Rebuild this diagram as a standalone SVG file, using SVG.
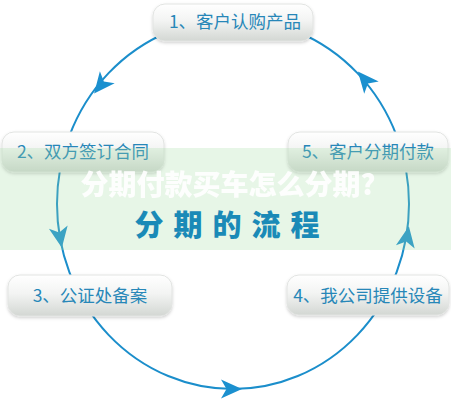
<svg xmlns="http://www.w3.org/2000/svg" width="451" height="400" viewBox="0 0 451 400">
<defs>
<linearGradient id="ng" x1="0" y1="0" x2="0" y2="1">
<stop offset="0" stop-color="#ffffff"/>
<stop offset="0.45" stop-color="#f3f4f3"/>
<stop offset="1" stop-color="#d3d7d3"/>
</linearGradient>
<filter id="sh" x="-10%" y="-20%" width="120%" height="150%">
<feDropShadow dx="0" dy="1.5" stdDeviation="1.5" flood-color="#000" flood-opacity="0.18"/>
</filter>
<path id="ah" d="M11,0 L-10,-9.5 L-4.5,0 L-10,9.5 Z"/>
</defs>
<style>
.node rect{fill:url(#ng);stroke:#e2e4e2;stroke-width:1;filter:url(#sh)}
.node text{font-family:"Noto Sans CJK SC","Noto Sans",sans-serif;font-size:17.5px;fill:#2787b8;text-anchor:middle}
.arrow{fill:#1b90cf}
.wm{font-family:"Noto Sans CJK SC",sans-serif;font-weight:900;fill:#ffffff}
.title{font-family:"Noto Sans CJK SC",sans-serif;font-weight:900;fill:#1a8ab7}
</style>
<rect width="451" height="400" fill="#ffffff"/>
<g id="connectors">
<ellipse cx="233" cy="204" rx="176" ry="185" fill="none" stroke="#1b8ecb" stroke-width="2"/>
<use href="#ah" class="arrow" transform="translate(101,85) rotate(128.9)"/>
<use href="#ah" class="arrow" transform="translate(60,237) rotate(80.2)"/>
<use href="#ah" class="arrow" transform="translate(231,389) rotate(0)"/>
<use href="#ah" class="arrow" transform="translate(407,237) rotate(-80.2)"/>
<use href="#ah" class="arrow" transform="translate(365,80) rotate(-130.3)"/>
</g>
<g id="node1" class="node"><rect x="153" y="4" width="160" height="37" rx="12"/><text x="235" y="28">1、客户认购产品</text></g>
<g id="node2" class="node"><rect x="2" y="132" width="162" height="40" rx="12"/><text x="83" y="158">2、双方签订合同</text></g>
<g id="node5" class="node"><rect x="288" y="132" width="160" height="40" rx="12"/><text x="368" y="158">5、客户分期付款</text></g>
<g id="node3" class="node"><rect x="8" y="275" width="164" height="41" rx="12"/><text x="90" y="302">3、公证处备案</text></g>
<g id="node4" class="node"><rect x="287" y="275" width="162" height="40" rx="12"/><text x="368" y="302">4、我公司提供设备</text></g>
<rect id="band" x="0" y="148" width="451" height="102" fill="#9fdc9f" opacity="0.25"/>
<text class="title" x="232" y="236" font-size="29" text-anchor="middle" letter-spacing="10">分期的流程</text>
<text class="wm" x="228" y="195" font-size="28" text-anchor="middle" opacity="0.92">分期付款买车怎么分期?</text>
</svg>
